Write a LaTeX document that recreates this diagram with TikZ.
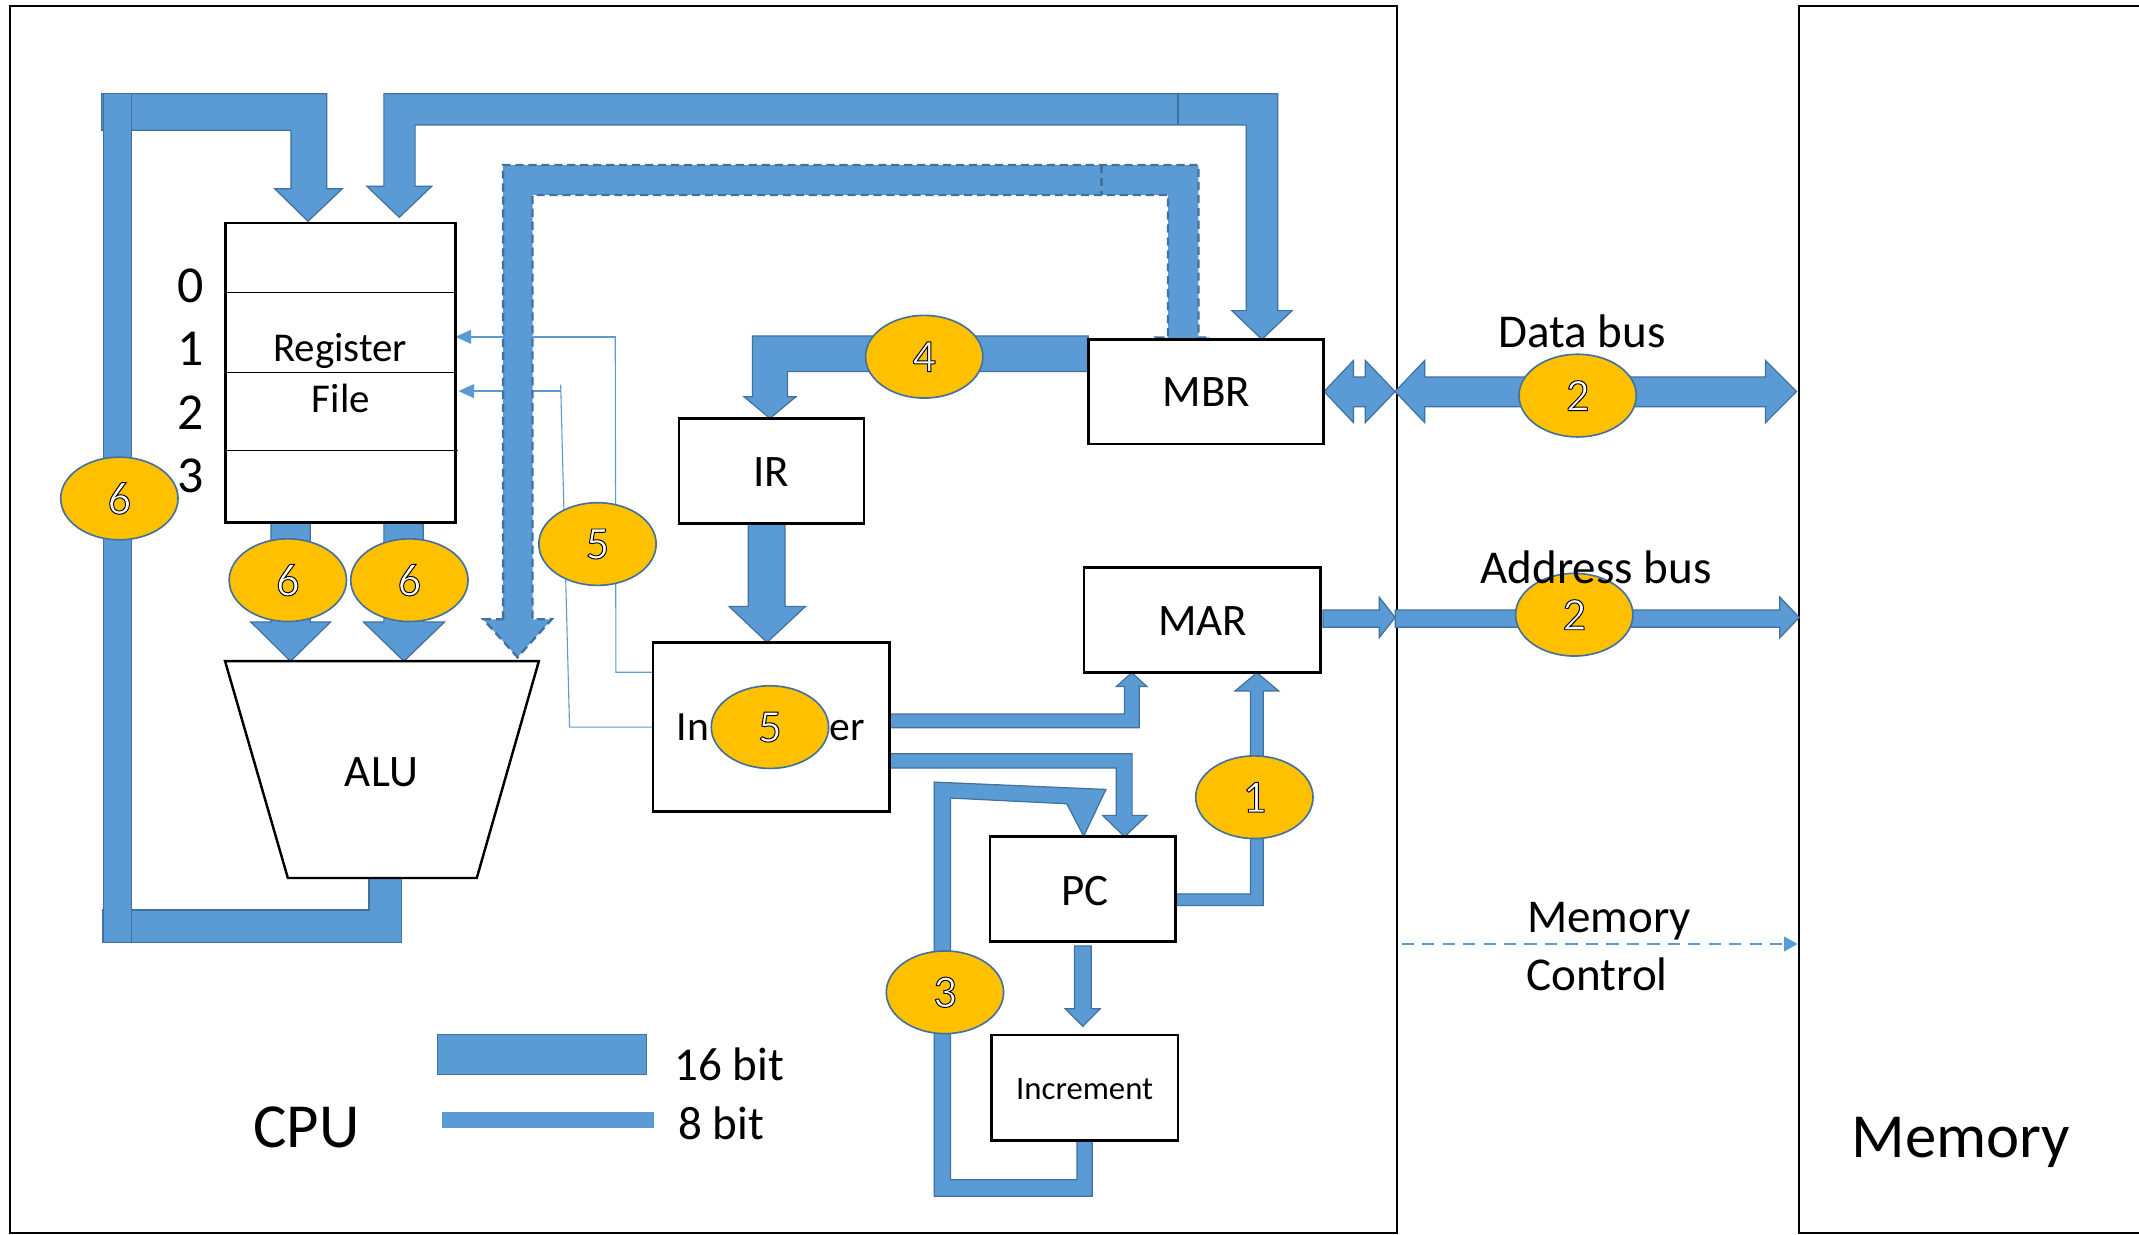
\documentclass[tikz,border=0pt]{standalone}
\usepackage{fontspec}
\setmainfont{Carlito}
\usetikzlibrary{arrows.meta,shapes.geometric}
\definecolor{bfill}{HTML}{5B9BD5}
\definecolor{bline}{HTML}{41719C}
\definecolor{ygold}{HTML}{FFC000}
\newcommand\oldig[1]{\special{pdf:literal direct 0 G 2 Tr 0.7 w}#1\special{pdf:literal direct 0 Tr}}
\tikzset{
  bus/.style={fill=bfill, draw=bline, line width=0.9pt, line join=miter},
  dbus/.style={fill=bfill, draw=bline, line width=1.7pt, dash pattern=on 6pt off 3.5pt},
  box/.style={draw=black, fill=white, line width=1.8pt, inner sep=0pt},
  badge/.style={ellipse, minimum width=86pt, minimum height=60.6pt, inner sep=0pt, fill=ygold, draw=bline, line width=1.2pt, text=white, font=\fontsize{34}{34}\selectfont},
  lbl/.style={inner sep=0pt, anchor=base},
  thinbus/.style={draw=bfill, line width=0.8pt},
  fbox/.style={font=\fontsize{33}{36}\selectfont},
  fmid/.style={font=\fontsize{34.5}{38}\selectfont},
  fbig/.style={font=\fontsize{46}{50}\selectfont},
}
\begin{document}
\begin{tikzpicture}[x=1pt,y=-1pt]
\useasboundingbox (0,0) rectangle (1568,905);
\fill[white] (0,0) rectangle (1568,905);

% frames
\draw[line width=1.5pt] (7.2,4.2) rectangle (1024.3,903.6);
\draw[line width=1.5pt] (1600,4.2) -- (1318.5,4.2) -- (1318.5,903.6) -- (1600,903.6);

% thin 8-bit control lines (step 5)
\draw[thinbus] (478.7,492.8) -- (451.5,492.8) -- (451,246.9);
\draw[thinbus, line width=1.5pt, -{Triangle[length=11.5pt,width=10pt]}] (451.5,246.9) -- (333.8,246.9);
\draw[thinbus] (478.7,533) -- (417.5,533) -- (411,282);
\draw[thinbus, line width=1.5pt, -{Triangle[length=11.5pt,width=10pt]}] (411,286.7) -- (336,286.7);

% left loop: ALU -> register file
\path[bus] (270.5,643.6) -- (294.2,643.6) -- (294.2,691) -- (75,691) -- (75,667) -- (270.5,667) -- cycle;
\path[bus] (74.6,68.7) -- (239.6,68.7) -- (239.6,138.3) -- (251,138.3) -- (225.8,162.2) -- (201.3,138.3) -- (213.3,138.3) -- (213.3,95.4) -- (74.6,95.4) -- cycle;
\path[bus] (76,68.7) rectangle (96.5,691);

% MBR -> register file
\path[bus] (281.4,136.6) -- (281.4,68.7) -- (936.7,68.7) -- (936.7,227.7) -- (947.2,227.7) -- (925,248.8) -- (903,227.7) -- (913.5,227.7) -- (913.5,91.6) -- (304.3,91.6) -- (304.3,136.6) -- (316.4,136.6) -- (292.7,159.3) -- (269,136.6) -- cycle;
\draw[bline, line width=0.9pt] (863.5,68.7) -- (863.5,91.6);

% dashed MBR -> ALU
\path[dbus] (368.8,454) -- (368.8,121) -- (878.5,121) -- (878.5,247.5) -- (887,247.5) -- (867.4,262) -- (848,247.5) -- (856.2,247.5) -- (856.2,142.9) -- (390.4,142.9) -- (390.4,454) -- (404.4,454) -- (379.4,481.8) -- (354.3,454) -- cycle;
\draw[bline, line width=1.7pt, dash pattern=on 6pt off 3.5pt] (807.5,121) -- (807.5,142.9);

% MBR -> IR (4)
\path[bus] (797.8,246.3) -- (797.8,272.4) -- (577.3,272.4) -- (577.3,290.8) -- (583.5,290.8) -- (564.4,306.7) -- (545.4,290.8) -- (551.6,290.8) -- (551.6,246.3) -- cycle;

% IR -> decoder
\path[bus] (548.5,383.6) -- (575.5,383.6) -- (575.5,444.5) -- (590.5,444.5) -- (562.3,470.9) -- (534.4,444.5) -- (548.5,444.5) -- cycle;

% decoder -> MAR
\path[bus] (652.2,523.4) -- (824.3,523.4) -- (824.3,503.3) -- (818.3,503.3) -- (829.6,493.1) -- (840.8,503.3) -- (835.2,503.3) -- (835.2,533.5) -- (652.2,533.5) -- cycle;

% decoder -> PC
\path[bus] (652.2,552.6) -- (829.9,552.6) -- (829.9,597.7) -- (840.8,597.7) -- (824.4,613.3) -- (808.2,597.7) -- (818.3,597.7) -- (818.3,563) -- (652.2,563) -- cycle;

% PC -> MAR (1)
\path[bus] (861.7,655.3) -- (916.7,655.3) -- (916.7,506.5) -- (905.4,506.5) -- (921.4,493.1) -- (937.3,506.5) -- (926,506.5) -- (926,663.8) -- (861.7,663.8) -- cycle;

% PC -> Increment
\path[bus] (787.6,693.4) -- (800,693.4) -- (800,739.5) -- (806.4,739.5) -- (793.8,752.3) -- (780.9,739.5) -- (787.6,739.5) -- cycle;

% Increment -> PC (3)
\path[bus] (800.7,836.1) -- (800.7,876.9) -- (684.8,876.9) -- (684.8,573.3) -- (810.7,578.7) -- (794.4,613) -- (782,589.2) -- (696.8,585) -- (696.8,864.8) -- (789.5,864.8) -- (789.5,836.1) -- cycle;

% register file -> ALU (6, 6)
\path[bus] (198.6,383) -- (227.4,383) -- (227.4,456) -- (242.2,456) -- (213,484.7) -- (183.9,456) -- (198.6,456) -- cycle;
\path[bus] (281.4,383) -- (310.2,383) -- (310.2,456) -- (325.8,456) -- (296.1,484.7) -- (266.5,456) -- (281.4,456) -- cycle;

% data bus
\path[bus] (970.6,287) -- (992.2,264.2) -- (992.2,276.4) -- (1000.8,276.4) -- (1000.8,264.2) -- (1022.7,287) -- (1000.8,309.8) -- (1000.8,298.2) -- (992.2,298.2) -- (992.2,309.8) -- cycle;
\path[bus] (1022.7,287) -- (1044.4,264.2) -- (1044.4,276.4) -- (1294.2,276.4) -- (1294.2,264.2) -- (1316.9,287) -- (1294.2,309.8) -- (1294.2,298.2) -- (1044.4,298.2) -- (1044.4,309.8) -- cycle;

% address bus
\path[bus] (969.8,447.2) -- (1011,447.2) -- (1011,437.7) -- (1022.7,452.6) -- (1011,467.5) -- (1011,459.8) -- (969.8,459.8) -- cycle;
\path[bus] (1022.7,447.2) -- (1304.7,447.2) -- (1304.7,437.7) -- (1318.9,452.6) -- (1304.7,467.5) -- (1304.7,459.8) -- (1022.7,459.8) -- cycle;

% memory control
\draw[draw=bfill, line width=1.5pt, dash pattern=on 9pt off 6pt] (1027.5,692) -- (1308,692);
\fill[bfill] (1307.9,686.5) -- (1317.7,692) -- (1307.9,697.5) -- cycle;

% legend bars
\path[bus] (320.6,758.2) rectangle (474.1,787.9);
\fill[bfill] (324.3,815.5) rectangle (479.1,826.6);

% boxes
\node[box, minimum width=168.5pt, minimum height=219.7pt] (rf) at (249.55,273.15) {};
\draw[line width=1pt] (166,214.6) -- (333.8,214.6);
\draw[line width=1pt] (165.3,273) -- (333.8,273);
\draw[line width=1pt] (165.3,330.2) -- (335.4,330.2);
\node[box, minimum width=135.7pt, minimum height=76.9pt] (ir) at (565.45,345.15) {};
\node[box, minimum width=172.5pt, minimum height=76.7pt] (mbr) at (884.05,287.15) {};
\node[box, minimum width=173.1pt, minimum height=77.2pt] (mar) at (881.35,454.5) {};
\node[box, minimum width=173.5pt, minimum height=124pt] (dec) at (565.45,532.9) {};
\node[box, minimum width=136.1pt, minimum height=76.9pt] (pc) at (793.65,651.75) {};
\node[box, minimum width=136.8pt, minimum height=77.6pt] (inc) at (795.1,797.3) {};
\draw[draw=black, fill=white, line width=1.8pt] (165,484.7) -- (395,484.7) -- (349.5,643.6) -- (211,643.6) -- cycle;
\coordinate (alu) at (279.6,564);

% box labels
\node[lbl, font=\fontsize{30}{34}\selectfont] (rft1) at (249.4,265) {Register};
\node[lbl, font=\fontsize{30}{34}\selectfont] (rft2) at (249.9,302.4) {File};
\node[lbl, fbox] (irt) at (565.5,356.7) {IR};
\node[lbl, fbox] (mbrt) at (884.3,298.1) {MBR};
\node[lbl, fbox] (mart) at (881.5,466.1) {MAR};
\node[lbl, fbox] (pct) at (795.1,663.8) {PC};
\node[lbl, font=\fontsize{24}{28}\selectfont] (inct) at (795.1,806.3) {Increment};
\node[lbl, font=\fontsize{30.5}{34}\selectfont, anchor=base west] (dect1) at (496,543) {In};
\node[lbl, font=\fontsize{30.5}{34}\selectfont, anchor=base east] (dect2) at (634.3,543) {er};
\node[lbl, fbox] (alut) at (279.6,576.5) {ALU};

% register numbers
\foreach \n/\yy in {0/221.6,1/267.9,2/314.8,3/361.3}
  \node[lbl, font=\fontsize{38}{40}\selectfont] (r\n) at (139.5,\yy) {\n};

% step badges
\node[badge] (s6a) at (87.5,365.4) {\oldig{6}};
\node[badge] (s6b) at (211,425.3) {\oldig{6}};
\node[badge] (s6c) at (300.1,425.3) {\oldig{6}};
\node[badge] (s5a) at (438,398.8) {\oldig{5}};
\node[badge] (s5b) at (564.4,533) {\oldig{5}};
\node[badge] (s4) at (677.5,261.5) {\oldig{4}};
\node[badge] (s2d) at (1156.5,290) {\oldig{2}};
\node[badge] (s2a) at (1154,450.6) {\oldig{2}};
\node[badge] (s1) at (919.5,584.4) {\oldig{1}};
\node[badge] (s3) at (692.7,727.4) {\oldig{3}};

% bus labels
\node[lbl, fmid] (dbl) at (1159.8,254.4) {Data bus};
\node[lbl, fmid] (abl) at (1170,427.9) {Address bus};
\node[lbl, fmid] (mcl1) at (1179.5,683.9) {Memory};
\node[lbl, fmid] (mcl2) at (1170.7,726.1) {Control};
\node[lbl, fmid, anchor=base west] (l16) at (494,791.7) {16 bit};
\node[lbl, fmid, anchor=base west] (l8) at (497,835.5) {8 bit};
\node[lbl, fbig] (cpu) at (224.5,841.3) {CPU};
\node[lbl, fbig] (mem) at (1437.4,848.4) {Memory};
\end{tikzpicture}
\end{document}
